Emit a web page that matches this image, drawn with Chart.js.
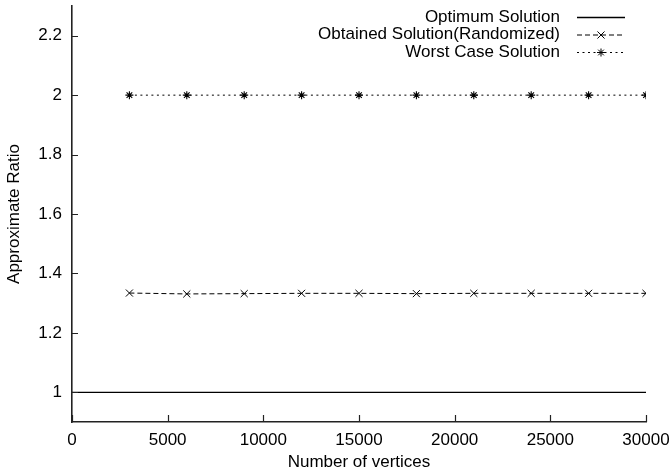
<!DOCTYPE html>
<html>
<head>
<meta charset="utf-8">
<script src="https://cdn.jsdelivr.net/npm/chart.js@4.4.1/dist/chart.umd.min.js"></script>
<style>
  html, body { margin: 0; padding: 0; background: #fff; }
  #wrap { width: 672px; height: 474px; }
</style>
</head>
<body>
<div id="wrap"><canvas id="chart" width="672" height="474"></canvas></div>
<script>
// number of vertices where the randomized runs were measured
const vertices = [3000, 6000, 9000, 12000, 15000, 18000, 21000, 24000, 27000, 30000];
// approximate ratios
const obtained = [1.334, 1.331, 1.332, 1.333, 1.333, 1.332, 1.333, 1.333, 1.333, 1.333];
const worstCase = [2, 2, 2, 2, 2, 2, 2, 2, 2, 2];
// optimum is a flat line across the whole x range
const optimumX = [0, 30000];
const optimumY = [1, 1];

const xTicks = [0, 5000, 10000, 15000, 20000, 25000, 30000];
const yTicks = [1, 1.2, 1.4, 1.6, 1.8, 2, 2.2];

const seriesNames = ['Optimum Solution', 'Obtained Solution(Randomized)', 'Worst Case Solution'];

const FONT = 'Liberation Sans, Arial, Helvetica, sans-serif';
const FSIZE = 17;
const INK = '#000';

function pairs(xs, ys) {
  return xs.map((x, i) => ({ x: x, y: ys[i] }));
}

// gnuplot-like ticks drawn on the inside of the axes
const innerTicks = {
  id: 'innerTicks',
  afterDraw(chart) {
    const ctx = chart.ctx;
    const xs = chart.scales.x, ys = chart.scales.y;
    ctx.save();
    ctx.strokeStyle = '#222';
    ctx.lineWidth = 1.2;
    ctx.beginPath();
    xTicks.forEach(v => {
      const px = Math.round(xs.getPixelForValue(v)) + 0.5;
      ctx.moveTo(px, ys.bottom);
      ctx.lineTo(px, ys.bottom - 7);
    });
    yTicks.forEach(v => {
      const py = Math.round(ys.getPixelForValue(v)) + 0.5;
      ctx.moveTo(xs.left, py);
      ctx.lineTo(xs.left + 6, py);
    });
    ctx.stroke();
    ctx.restore();
  }
};

// key in the top right corner: text right aligned, sample to its right
const keyBox = {
  id: 'keyBox',
  afterDraw(chart) {
    const ctx = chart.ctx;
    const textRight = 560, sx0 = 577, sx1 = 625;
    const rowY = [17, 34.5, 52];
    ctx.save();
    ctx.font = FSIZE + 'px ' + FONT;
    ctx.fillStyle = INK;
    ctx.textAlign = 'right';
    ctx.textBaseline = 'middle';
    chart.data.datasets.forEach((ds, i) => {
      const y = rowY[i];
      ctx.fillText(ds.label, textRight, y);
      ctx.beginPath();
      ctx.setLineDash(ds.borderDash || []);
      ctx.strokeStyle = ds.borderColor;
      ctx.lineWidth = ds.borderWidth;
      ctx.moveTo(sx0, y + 0.5);
      ctx.lineTo(sx1, y + 0.5);
      ctx.stroke();
      ctx.setLineDash([]);
      if (ds.pointRadius > 0) {
        Chart.helpers.drawPoint(ctx, {
          pointStyle: ds.pointStyle,
          radius: ds.pointRadius,
          borderWidth: 1
        }, (sx0 + sx1) / 2, y + 0.5);
      }
    });
    ctx.restore();
  }
};

const data = {
  datasets: [
    {
      label: seriesNames[0],
      data: pairs(optimumX, optimumY),
      borderColor: INK,
      borderWidth: 1.3,
      pointRadius: 0
    },
    {
      label: seriesNames[1],
      data: pairs(vertices, obtained),
      borderColor: INK,
      borderWidth: 1,
      borderDash: [5, 3],
      pointStyle: 'crossRot',
      pointRadius: 5,
      pointBorderWidth: 1,
      pointBorderColor: INK
    },
    {
      label: seriesNames[2],
      data: pairs(vertices, worstCase),
      borderColor: INK,
      borderWidth: 1,
      borderDash: [2, 3.5],
      pointStyle: 'star',
      pointRadius: 4,
      pointBorderWidth: 1.1,
      pointBorderColor: INK
    }
  ]
};

const config = {
  type: 'line',
  data: data,
  plugins: [innerTicks, keyBox],
  options: {
    responsive: false,
    animation: false,
    devicePixelRatio: 1,
    layout: { padding: { top: 4, right: 26, left: 0, bottom: 0 } },
    plugins: {
      legend: { display: false },
      tooltip: { enabled: false }
    },
    scales: {
      x: {
        type: 'linear',
        min: 0,
        max: 30000,
        afterBuildTicks: s => { s.ticks = xTicks.map(v => ({ value: v })); },
        afterFit: s => { s.height = 52; s.paddingLeft = 0; s.paddingRight = 0; },
        grid: { display: false, drawTicks: false },
        border: { display: true, color: '#222', width: 1.6 },
        ticks: {
          color: INK,
          padding: 8,
          maxRotation: 0,
          autoSkip: false,
          font: { family: FONT, size: FSIZE },
          callback: v => String(v)
        },
        title: {
          display: true,
          text: 'Number of vertices',
          color: INK,
          font: { family: FONT, size: FSIZE },
          padding: { top: 1, bottom: 1 }
        }
      },
      y: {
        type: 'linear',
        min: 0.9,
        max: 2.3,
        afterBuildTicks: s => { s.ticks = yTicks.map(v => ({ value: v })); },
        afterFit: s => { s.width = 72; s.paddingTop = 0; s.paddingBottom = 0; },
        grid: { display: false, drawTicks: false },
        border: { display: true, color: '#222', width: 1.6 },
        ticks: {
          color: INK,
          padding: 10,
          autoSkip: false,
          font: { family: FONT, size: FSIZE },
          callback: v => String(Math.round(v * 10) / 10)
        },
        title: {
          display: true,
          text: 'Approximate Ratio',
          color: INK,
          font: { family: FONT, size: FSIZE },
          padding: { top: 4, bottom: 0 }
        }
      }
    }
  }
};

const chart = new Chart(document.getElementById('chart'), config);
</script>
</body>
</html>
